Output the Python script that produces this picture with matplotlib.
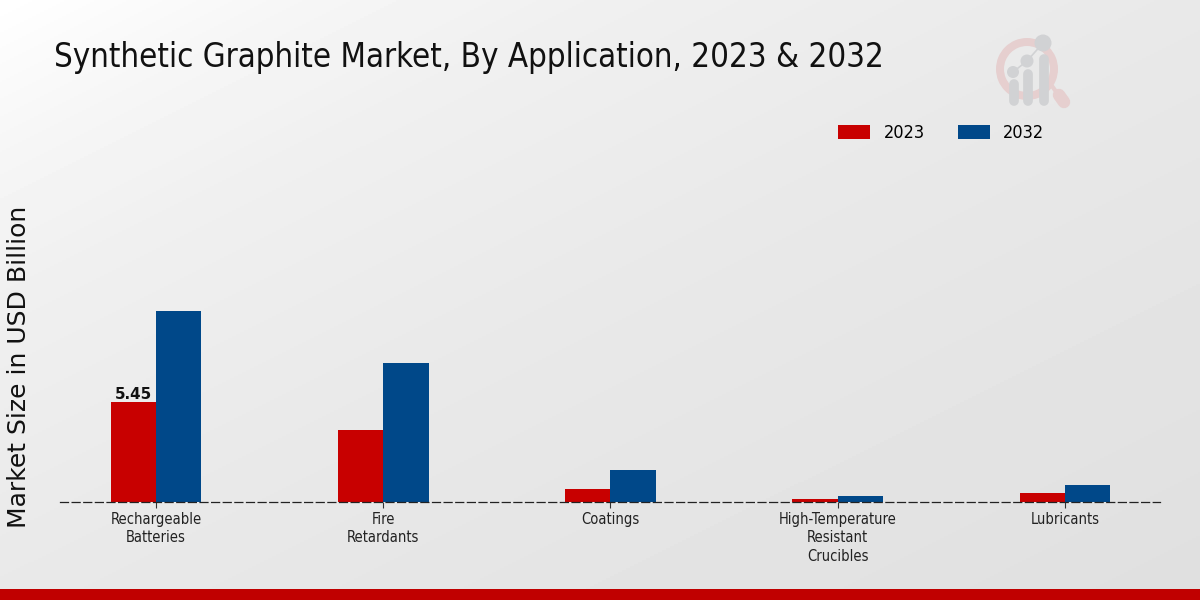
import matplotlib
matplotlib.use('Agg')
import matplotlib.pyplot as plt
from matplotlib.patches import Circle, Wedge, Rectangle
import numpy as np

categories = ['Rechargeable\nBatteries', 'Fire\nRetardants', 'Coatings',
              'High-Temperature\nResistant\nCrucibles', 'Lubricants']
values_2023 = [5.45, 3.95, 0.71, 0.19, 0.49]
values_2032 = [10.42, 7.57, 1.77, 0.33, 0.93]

W, H = 1200, 600
RED = '#c80000'
BLUE = '#004889'

fig = plt.figure(figsize=(W / 100, H / 100), dpi=100)

# background gradient, white in the top left corner
bg = fig.add_axes([0, 0, 1, 1], zorder=0)
yy, xx = np.mgrid[0:1:300j, 0:1:600j]
d = xx + yy
shade = np.interp(d, [0, 0.1, 0.25, 0.5, 1.0, 2.0], [1.0, 0.985, 0.965, 0.94, 0.912, 0.875])
bg.imshow(shade, cmap='gray', vmin=0, vmax=1, extent=[0, W, H, 0], aspect='auto')
bg.set_xlim(0, W)
bg.set_ylim(H, 0)
bg.axis('off')

# bottom strip
bg.add_patch(Rectangle((0, 589), W, 11, color='#c00000', lw=0))

# faint logo
LOGO_RED = '#e6cfcf'
LOGO_GREY = '#d1d2d4'
bg.add_patch(Wedge((1027, 69), 31, 0, 360, width=8, color=LOGO_RED, lw=0))
bg.plot([1052, 1062], [86, 100], color=LOGO_RED, lw=3, solid_capstyle='round')
bg.plot([1059, 1064], [95, 102], color=LOGO_RED, lw=9, solid_capstyle='round')
bg.plot([1013, 1027, 1043], [72, 61, 43], color=LOGO_GREY, lw=1.2)
for cx, cy, r, top in [(1013, 72, 6, 84), (1027, 61, 6.5, 74), (1043, 43, 8.5, 59)]:
    bg.add_patch(Circle((cx, cy), r, color=LOGO_GREY, lw=0))
    bg.plot([cx + 1, cx + 1], [top, 101], color=LOGO_GREY, lw=7, solid_capstyle='round')

# main axes, placed to the pixel
left, right, top_px, base_px = 60, 1160, 120, 502
ax = fig.add_axes([left / W, 1 - base_px / H, (right - left) / W, (base_px - top_px) / H], zorder=1)
ax.patch.set_alpha(0)

x = np.arange(len(categories))
width = 0.2
ax.bar(x - width / 2, values_2023, width, color=RED, linewidth=0, label='2023')
ax.bar(x + width / 2, values_2032, width, color=BLUE, linewidth=0, label='2032')

ax.set_xlim(-0.4224, 4.418)
ax.set_ylim(0, (base_px - top_px) / 18.35)
ax.set_yticks([])
ax.set_xticks(x)
ax.set_xticklabels(categories, fontsize=10.5, color='#222222', fontstretch='condensed', linespacing=1.3)
ax.tick_params(axis='x', length=4, width=0.8, pad=3, color='#333333')
for s in ['top', 'right', 'left']:
    ax.spines[s].set_visible(False)
ax.spines['bottom'].set_linestyle((0, (6.4, 2.9)))
ax.spines['bottom'].set_linewidth(0.9)
ax.spines['bottom'].set_color('#222222')
ax.spines['bottom'].set_zorder(5)

ax.text(x[0] - width / 2, values_2023[0] + 0.0, '5.45', ha='center', va='bottom',
        fontsize=10.8, fontweight='bold', color='#111111')

fig.text(19 / W, 1 - 367 / H, 'Market Size in USD Billion', rotation=90, ha='center', va='center',
         fontsize=18, color='#111111')
fig.text(54 / W, 1 - 57 / H, 'Synthetic Graphite Market, By Application, 2023 & 2032', ha='left', va='center',
         fontsize=23.7, color='#111111', fontstretch='condensed')

ax.legend(loc='center left', bbox_to_anchor=(822 / W, 1 - 133.5 / H), bbox_transform=fig.transFigure,
          ncol=2, frameon=False, handlelength=1.78, handleheight=0.78, columnspacing=1.85, handletextpad=0.72,
          prop={'size': 13, 'stretch': 'condensed'})

fig.savefig('out.png', dpi=100)
